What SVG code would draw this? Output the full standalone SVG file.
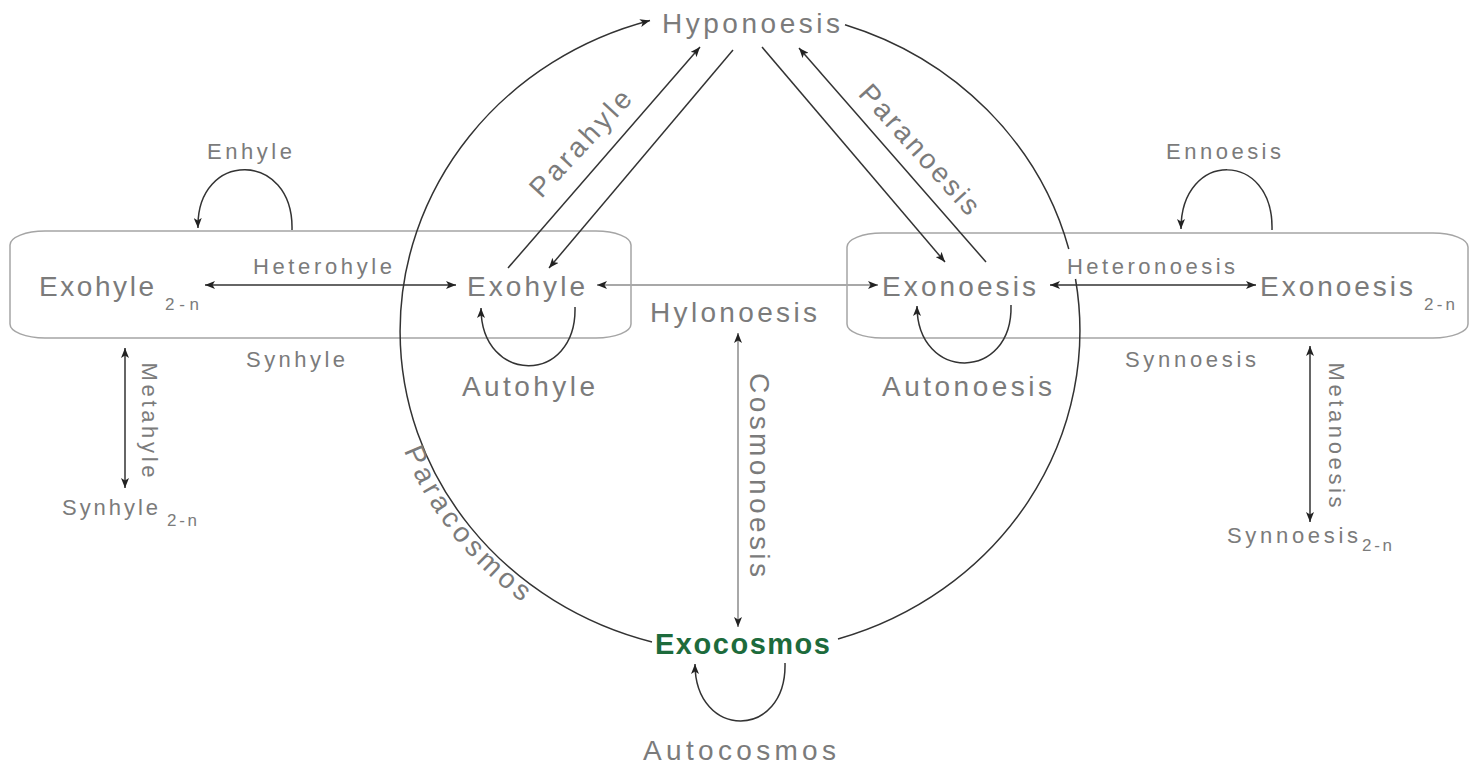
<svg xmlns="http://www.w3.org/2000/svg" width="1470" height="765" viewBox="0 0 1470 765">
<style>
  text { font-family: "Liberation Sans", Arial, sans-serif; fill: #7b7b7b; }
  .big { font-size: 28px; }
  .mid { font-size: 22px; }
  .sub { font-size: 17px; }
  .ln { stroke: #333; stroke-width: 1.5; fill: none; }
  .gl { stroke: #a8a8a8; stroke-width: 2; fill: none; }
  .box { stroke: #a5a5a5; stroke-width: 1.5; fill: none; }
  .green { fill: #1d6b3c; font-weight: bold; font-size: 29px; }
</style>
<defs>
  <marker id="ah" viewBox="0 0 10 8" refX="10" refY="4" markerWidth="10" markerHeight="8" markerUnits="userSpaceOnUse" orient="auto-start-reverse">
    <path d="M0,0 L10,4 L0,8 L2.5,4 z" fill="#222"/>
  </marker>
  <path id="pcpath" d="M381,331 A359 341 0 0 0 740,672"/>
</defs>
<rect width="1470" height="765" fill="#fff"/>

<g id="boxes">
  <rect id="box-hyle" class="box" x="10" y="231" width="621" height="107" rx="35" ry="14"/>
  <rect id="box-noesis" class="box" x="847" y="233" width="621" height="105" rx="35" ry="14"/>
</g>

<g id="connectors">
  <!-- big circle (Paracosmos) -->
  <path class="ln" d="M652,642 A340 322 0 0 1 650,20.5" marker-end="url(#ah)"/>
  <path class="ln" d="M845,24.7 A340 322 0 0 1 1068.8,249"/>
  <path class="ln" d="M1075.5,279 A340 322 0 0 1 838,639"/>
  <!-- Parahyle -->
  <line class="ln" x1="508" y1="268" x2="700" y2="47" marker-end="url(#ah)"/>
  <line class="ln" x1="733" y1="50" x2="549" y2="268" marker-end="url(#ah)"/>
  <!-- Paranoesis -->
  <line class="ln" x1="762" y1="47" x2="945" y2="262" marker-end="url(#ah)"/>
  <line class="ln" x1="986" y1="262" x2="799" y2="48" marker-end="url(#ah)"/>
  <!-- Heterohyle / Heteronoesis -->
  <line class="ln" x1="205" y1="285" x2="456" y2="285" marker-start="url(#ah)" marker-end="url(#ah)"/>
  <line class="ln" x1="1050" y1="285" x2="1256" y2="285" marker-start="url(#ah)" marker-end="url(#ah)"/>
  <!-- Hylonoesis -->
  <line class="gl" x1="597" y1="285" x2="878" y2="285" marker-start="url(#ah)" marker-end="url(#ah)"/>
  <!-- Cosmonoesis -->
  <line class="gl" x1="738" y1="333" x2="738" y2="627" marker-start="url(#ah)" marker-end="url(#ah)"/>
  <!-- Metahyle / Metanoesis -->
  <line class="ln" x1="125" y1="348" x2="125" y2="488" marker-start="url(#ah)" marker-end="url(#ah)"/>
  <line class="ln" x1="1310" y1="346" x2="1310" y2="522" marker-start="url(#ah)" marker-end="url(#ah)"/>
  <!-- self loops -->
  <path class="ln" d="M292,230 C294,150 196,150 198,228" marker-end="url(#ah)"/>
  <path class="ln" d="M1272,230 C1274,150 1181,150 1181,229" marker-end="url(#ah)"/>
  <path class="ln" d="M575,307 C577,385 481,385 481,308" marker-end="url(#ah)"/>
  <path class="ln" d="M1011,305 C1013,382 917,382 917,306" marker-end="url(#ah)"/>
  <path class="ln" d="M785,663 C787,740 695,740 695,664" marker-end="url(#ah)"/>
</g>

<g id="labels">
  <text class="mid" x="207" y="159" textLength="85" lengthAdjust="spacing">Enhyle</text>
  <text class="mid" x="1166" y="159" textLength="115" lengthAdjust="spacing">Ennoesis</text>
  <text class="mid" x="253" y="274" textLength="139" lengthAdjust="spacing">Heterohyle</text>
  <text class="mid" x="1067" y="274" textLength="168" lengthAdjust="spacing">Heteronoesis</text>
  <text class="mid" x="246" y="367" textLength="99" lengthAdjust="spacing">Synhyle</text>
  <text class="mid" x="1125" y="367" textLength="131" lengthAdjust="spacing">Synnoesis</text>
  <text class="big" x="462" y="396" textLength="133" lengthAdjust="spacing">Autohyle</text>
  <text class="big" x="882" y="396" textLength="170" lengthAdjust="spacing">Autonoesis</text>
  <text class="big" x="643" y="760" textLength="193" lengthAdjust="spacing">Autocosmos</text>
  <text class="mid" text-anchor="middle" x="150" y="420" textLength="115" lengthAdjust="spacing" transform="rotate(90 150 420)" dy="8">Metahyle</text>
  <text class="mid" text-anchor="middle" x="1337" y="435" textLength="145" lengthAdjust="spacing" transform="rotate(90 1337 435)" dy="8">Metanoesis</text>
  <text class="big" text-anchor="middle" x="760" y="475" textLength="204" lengthAdjust="spacing" transform="rotate(90 760 475)" dy="10">Cosmonoesis</text>
  <text class="big" text-anchor="middle" x="580" y="143" textLength="135" lengthAdjust="spacing" transform="rotate(-47 580 143)" dy="10">Parahyle</text>
  <text class="big" text-anchor="middle" x="920" y="149" textLength="165" lengthAdjust="spacing" transform="rotate(48 920 149)" dy="10">Paranoesis</text>
  <text class="big" text-anchor="middle" textLength="195" lengthAdjust="spacing"><textPath href="#pcpath" startOffset="40%">Paracosmos</textPath></text>
</g>

<g id="node-hyponoesis"><text class="big" x="662" y="33" textLength="178" lengthAdjust="spacing" font-size="29">Hyponoesis</text></g>
<g id="node-exohyle-2n">
  <text class="big" x="39" y="296" textLength="115" lengthAdjust="spacing">Exohyle</text>
  <text class="sub" x="165" y="310" textLength="34" lengthAdjust="spacing">2-n</text>
</g>
<g id="node-exohyle"><text class="big" x="467" y="296" textLength="118" lengthAdjust="spacing">Exohyle</text></g>
<g id="node-exonoesis"><text class="big" x="882" y="296" textLength="154" lengthAdjust="spacing">Exonoesis</text></g>
<g id="node-exonoesis-2n">
  <text class="big" x="1260" y="296" textLength="153" lengthAdjust="spacing">Exonoesis</text>
  <text class="sub" x="1424" y="310" textLength="31" lengthAdjust="spacing">2-n</text>
</g>
<g id="node-hylonoesis"><text class="big" x="650" y="322" textLength="167" lengthAdjust="spacing">Hylonoesis</text></g>
<g id="node-exocosmos"><text class="green" x="655" y="654" textLength="175" lengthAdjust="spacing">Exocosmos</text></g>
<g id="node-synhyle-2n">
  <text class="mid" x="62" y="515" textLength="96" lengthAdjust="spacing">Synhyle</text>
  <text class="sub" x="167" y="526" textLength="30" lengthAdjust="spacing">2-n</text>
</g>
<g id="node-synnoesis-2n">
  <text class="mid" x="1227" y="543" textLength="131" lengthAdjust="spacing">Synnoesis</text>
  <text class="sub" x="1362" y="551" textLength="30" lengthAdjust="spacing">2-n</text>
</g>
</svg>
